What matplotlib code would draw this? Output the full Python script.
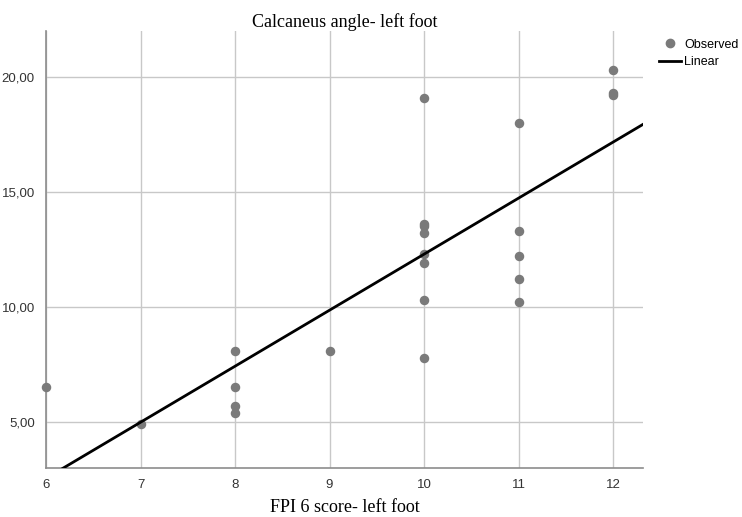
import numpy as np
import matplotlib.pyplot as plt
from matplotlib.lines import Line2D

# FPI 6 score (x) vs calcaneus angle (y), left foot
fpi = [6, 7, 8, 8, 8, 8, 9,
       10, 10, 10, 10, 10, 10, 10, 10,
       11, 11, 11, 11, 11,
       12, 12, 12]
angle = [6.5, 4.9, 8.1, 6.5, 5.7, 5.4, 8.1,
         19.1, 13.6, 13.5, 13.2, 12.3, 11.9, 10.3, 7.8,
         18.0, 13.3, 12.2, 11.2, 10.2,
         20.3, 19.3, 19.2]
xticks = [6, 7, 8, 9, 10, 11, 12]
yticks = [5, 10, 15, 20]

fig = plt.figure(figsize=(7.42, 5.17), dpi=100)
ax = fig.add_axes([0.062, 0.095, 0.805, 0.845])

tick_font = ['Liberation Sans Narrow', 'Liberation Sans', 'DejaVu Sans']
serif = ['Liberation Serif', 'DejaVu Serif']

ax.scatter(fpi, angle, s=34, color='#7a7a7a', zorder=3, clip_on=False)

slope, icpt = np.polyfit(fpi, angle, 1)
xs = np.array([6, 12.32])
ax.plot(xs, icpt + slope * xs, color='black', lw=2.0, zorder=4)

ax.set_xlim(6, 12.32)
ax.set_ylim(3, 22)
ax.set_xticks(xticks)
ax.set_yticks(yticks)
ax.set_xticklabels([str(v) for v in xticks], family=tick_font, fontsize=9.5, color='#333333')
ax.set_yticklabels([f"{v:.2f}".replace('.', ',') for v in yticks], family=tick_font, fontsize=9.5, color='#333333')
ax.tick_params(length=0, pad=8)
ax.grid(True, color='#c8c8c8', lw=1)
ax.set_axisbelow(True)
for s in ['top', 'right']:
    ax.spines[s].set_visible(False)
for s in ['left', 'bottom']:
    ax.spines[s].set_color('#8c8c8c')
    ax.spines[s].set_linewidth(1.2)

ax.set_title('Calcaneus angle- left foot', family=serif, fontsize=13, pad=3)
ax.set_xlabel('FPI 6 score- left foot', family=serif, fontsize=13, labelpad=6)

handles = [Line2D([], [], marker='o', ls='none', color='#7a7a7a', markersize=6),
           Line2D([], [], color='black', lw=2)]
leg = fig.legend(handles, ['Observed', 'Linear'], loc='upper left',
                 bbox_to_anchor=(0.882, 0.935), frameon=False,
                 prop={'family': tick_font, 'size': 9}, handlelength=1.7,
                 handletextpad=0.3, labelspacing=0.45, borderaxespad=0)

fig.savefig('out.png', dpi=100)
